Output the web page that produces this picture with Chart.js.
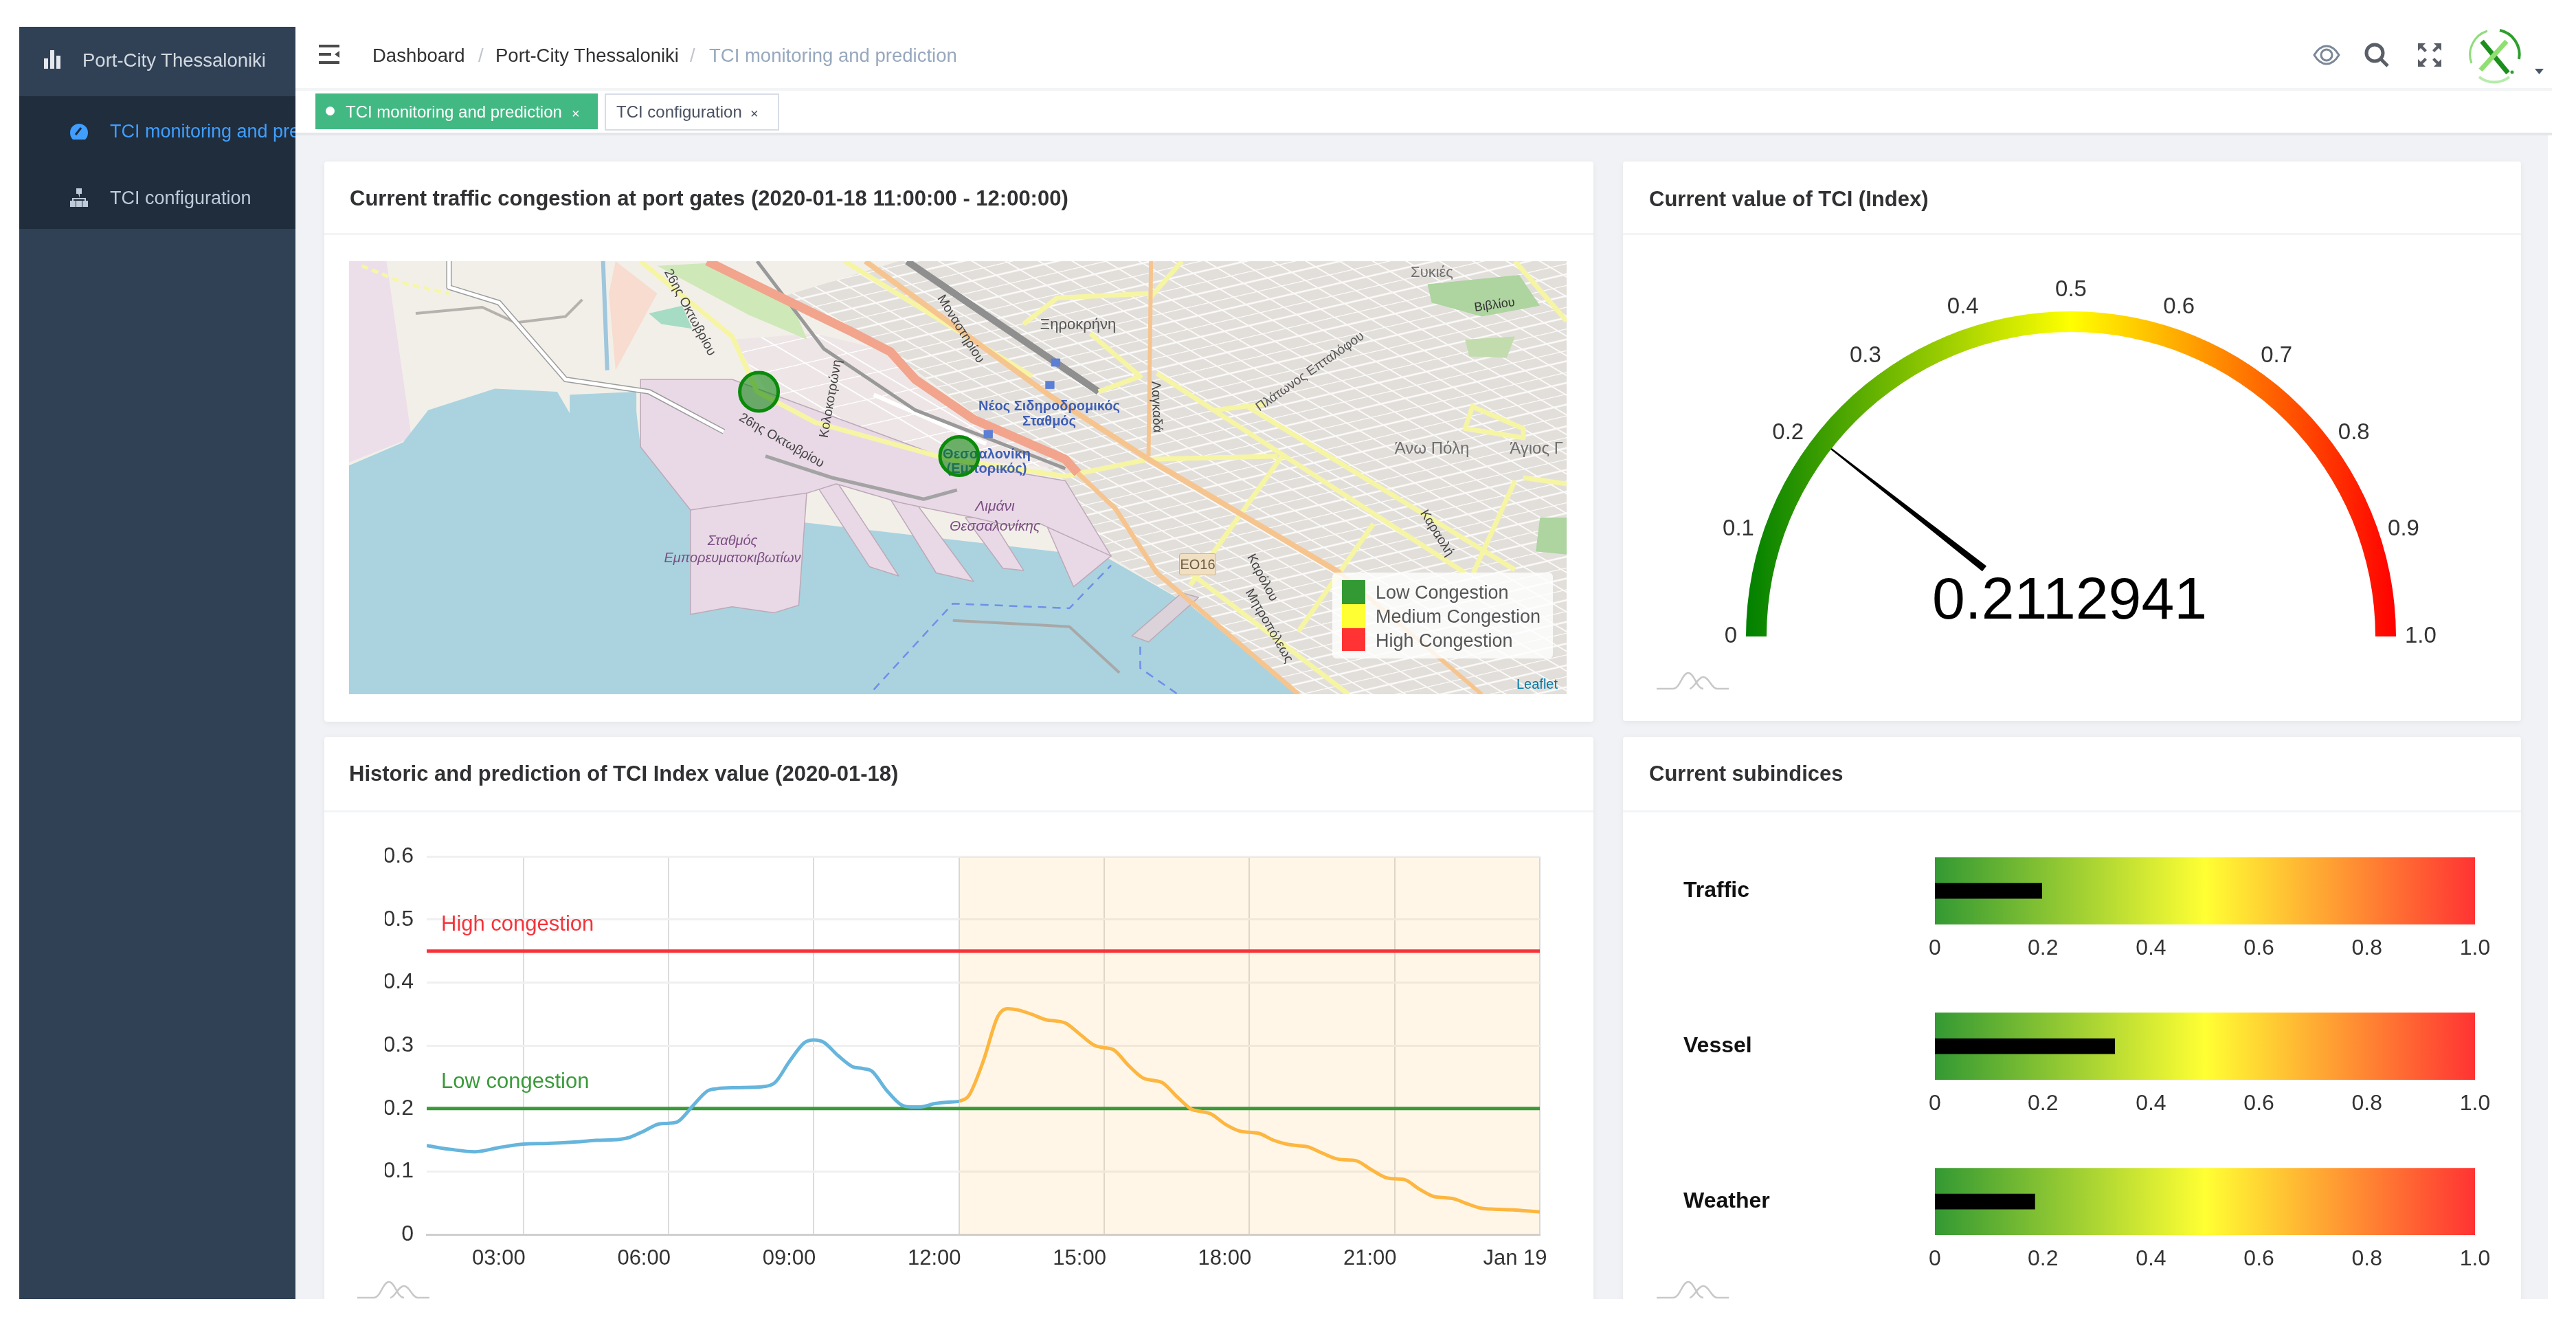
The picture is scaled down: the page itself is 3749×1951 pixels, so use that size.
<!DOCTYPE html>
<html>
<head>
<meta charset="utf-8">
<title>TCI monitoring and prediction</title>
<script src="https://cdn.jsdelivr.net/npm/chart.js@4/dist/chart.umd.js"></script>
<style>
html, body { margin: 0; padding: 0; background: #fff; width: 3749px; height: 1951px; overflow: hidden; font-family: "Liberation Sans", Arial, sans-serif; }
.abs, .abs-text, canvas { position: absolute; }
.abs-text { white-space: nowrap; line-height: 1; transform: translateY(-50%); }
#app { position: absolute; left: 28px; top: 39px; width: 3686px; height: 1851px; overflow: hidden; background: #fff; }
#stage { position: absolute; left: -28px; top: -39px; width: 3749px; height: 1951px; filter: blur(0.7px); }
.panel { position: absolute; background: #fff; border-radius: 4px; box-shadow: 0 2px 10px rgba(0,0,0,0.06); }
.title { font-size: 31px; font-weight: bold; color: #303133; }
.divider { position: absolute; height: 3px; background: #f3f4f6; }
.tri { position: absolute; width: 105px; height: 28px; }
.c { transform: translate(-50%,-50%); }
</style>
</head>
<body>
<div id="app"><div id="stage">
    <!-- page background -->
    <div class="abs" style="left:430px;top:195px;width:3278px;height:1700px;background:#f0f2f5"></div>
    <div class="abs" style="left:430px;top:128px;width:3284px;height:4px;background:#f3f4f5"></div>
    <div class="abs" style="left:430px;top:193px;width:3284px;height:4px;background:#e4e6ea"></div>

    <!-- sidebar -->
    <div class="abs" style="left:28px;top:39px;width:402px;height:1860px;background:#304156"></div>
    <div class="abs" style="left:28px;top:140px;width:402px;height:193px;background:#1f2d3d"></div>
    <svg class="abs" style="left:60px;top:70px" width="32" height="32"><path d="M4 15h6v15H4zM13 3h6v27h-6zM22 11h6v19h-6z" fill="#e4e7ec"/></svg>
    <div class="abs-text" style="left:120px;top:88px;font-size:27.500px;color:#d3d9e0">Port-City Thessaloniki</div>
    <svg class="abs" style="left:100px;top:176px" width="30" height="32"><path d="M15 4a13 13 0 0 1 13 13c0 5-2 8-4 10H6c-2-2-4-5-4-10A13 13 0 0 1 15 4z" fill="#409eff"/><path d="M10 20l8-10" stroke="#1f2d3d" stroke-width="3"/></svg>
    <div class="abs" style="left:160px;top:170px;width:270px;height:46px;overflow:hidden">
        <div class="abs-text" style="left:0;top:21px;font-size:27px;color:#409eff">TCI monitoring and prediction</div>
    </div>
    <svg class="abs" style="left:100px;top:272px" width="30" height="32"><path d="M11 2h8v8h-8zM14 10h2v6H5v4h2v-2h16v2h2v-4H16zM2 20h8v9H2zM11 20h8v9h-8zM20 20h8v9h-8z" fill="#bfcbd9"/></svg>
    <div class="abs-text" style="left:160px;top:288px;font-size:27px;color:#bfcbd9">TCI configuration</div>

    <!-- navbar -->
    <svg class="abs" style="left:464px;top:64px" width="32" height="32"><path d="M0 3h30M0 15h18M0 27h30" stroke="#4a4a4a" stroke-width="4"/><path d="M30 10l-7 5 7 5z" fill="#4a4a4a"/></svg>
    <div class="abs-text" style="left:542px;top:81px;font-size:27.500px;color:#303133">Dashboard</div>
    <div class="abs-text" style="left:696px;top:81px;font-size:27.500px;color:#c0c4cc">/</div>
    <div class="abs-text" style="left:721px;top:81px;font-size:27.500px;color:#303133">Port-City Thessaloniki</div>
    <div class="abs-text" style="left:1004px;top:81px;font-size:27.500px;color:#c0c4cc">/</div>
    <div class="abs-text" style="left:1032px;top:81px;font-size:27.500px;color:#97a8be">TCI monitoring and prediction</div>
    <svg class="abs" style="left:3366px;top:60px" width="40" height="40"><path d="M2 20C8 10 14 7 20 7s12 3 18 13c-6 10-12 13-18 13S8 30 2 20z" fill="none" stroke="#7a8797" stroke-width="3"/><circle cx="20" cy="20" r="8" fill="none" stroke="#7a8797" stroke-width="3"/></svg>
    <svg class="abs" style="left:3440px;top:60px" width="40" height="40"><circle cx="16" cy="17" r="12" fill="none" stroke="#5a5e66" stroke-width="5"/><path d="M25 26l10 10" stroke="#5a5e66" stroke-width="5"/></svg>
    <svg class="abs" style="left:3516px;top:60px" width="40" height="40"><path d="M3 3h11l-4 4 6 6-3 3-6-6-4 4zM37 3v11l-4-4-6 6-3-3 6-6-4-4zM3 37V26l4 4 6-6 3 3-6 6 4 4zM37 37H26l4-4-6-6 3-3 6 6 4-4z" fill="#5a5e66"/></svg>
    <svg class="abs" style="left:3590px;top:40px" width="82" height="82">
        <path d="M30 5A36 36 0 0 0 7 52" fill="none" stroke="#8fdc7c" stroke-width="3"/>
        <path d="M48 4A36 36 0 0 1 76 46" fill="none" stroke="#2f9e2f" stroke-width="4"/>
        <path d="M18 72A36 36 0 0 0 62 72" fill="none" stroke="#b5ecaa" stroke-width="4"/>
        <path d="M22 20L60 66" stroke="#1d8f1d" stroke-width="7"/>
        <path d="M58 20L20 62" stroke="#8fe070" stroke-width="7"/>
        <circle cx="66" cy="65" r="2.5" fill="#2f9e2f"/>
    </svg>
    <svg class="abs" style="left:3688px;top:99px" width="16" height="10"><path d="M1 1h13L7.500 9z" fill="#48576a"/></svg>

    <!-- tabs -->
    <div class="abs" style="left:459px;top:136px;width:411px;height:52px;background:#42b983"></div>
    <div class="abs" style="left:474px;top:155px;width:13px;height:13px;border-radius:50%;background:#fff"></div>
    <div class="abs-text" style="left:503px;top:163px;font-size:24px;color:#fff">TCI monitoring and prediction</div>
    <div class="abs-text" style="left:832px;top:165px;font-size:20px;color:#fff">×</div>
    <div class="abs" style="left:880px;top:136px;width:250px;height:50px;border:2px solid #d8dce5;background:#fff"></div>
    <div class="abs-text" style="left:897px;top:163px;font-size:24px;color:#495060">TCI configuration</div>
    <div class="abs-text" style="left:1092px;top:165px;font-size:20px;color:#495060">×</div>

    <!-- map panel -->
    <div class="panel" style="left:472px;top:235px;width:1847px;height:815px"></div>
    <div class="divider" style="left:472px;top:339px;width:1847px"></div>
    <div class="abs-text title" style="left:509px;top:288px">Current traffic congestion at port gates (2020-01-18 11:00:00 - 12:00:00)</div>

    <div class="abs" style="left:508px;top:380px;width:1772px;height:630px;overflow:hidden;background:#f2efe9">
        <svg class="abs" style="left:0;top:0" width="1772" height="630" viewBox="40 45 1462 1410" preserveAspectRatio="none">
            <defs>
                <pattern id="streets" width="60" height="34" patternUnits="userSpaceOnUse" patternTransform="rotate(58)">
                    <rect width="60" height="34" fill="#e2dfdb"/>
                    <path d="M0 0H60M0 0V34M30 0V34" stroke="#fbfaf8" stroke-width="5"/>
                </pattern>
                <pattern id="lightStreets" width="70" height="60" patternUnits="userSpaceOnUse" patternTransform="rotate(58)">
                    <rect width="70" height="60" fill="#eee6e6"/>
                    <path d="M0 0H70M0 0V60" stroke="#fff" stroke-width="5"/>
                </pattern>
            </defs>
            <g fill="none" stroke-linejoin="round">
                <polygon points="40,45 85,45 115,620 40,700" fill="#ecdfe9"/>
                <polygon points="700,45 1502,45 1502,1455 1180,1455 1050,1165 950,1000 900,760 690,340 560,160" fill="url(#streets)"/>
                <polygon points="500,300 600,280 690,340 790,560 900,720 770,690 560,540" fill="url(#lightStreets)"/>
                <polygon points="410,60 480,50 570,170 590,300 520,220" fill="#cfe8b8"/>
                <polygon points="400,215 440,190 452,265 415,250" fill="#a6dcc4"/>
                <polygon points="360,45 410,150 360,400 352,150" fill="#f7dccf"/>
                <polygon points="1335,120 1445,90 1470,190 1400,225 1340,180" fill="#aed4a0"/>
                <polygon points="1380,300 1440,290 1430,360 1385,355" fill="#c3dcae"/>
                <polygon points="1470,880 1502,880 1502,1000 1465,990" fill="#aed4a0"/>

                <!-- sea -->
                <polygon points="40,710 105,635 135,530 215,460 290,470 305,540 385,535 390,650 450,855 600,900 950,1010 1050,1165 1180,1455 40,1455" fill="#aad3df"/>
                <!-- port, container block and piers -->
                <g fill="#e9d9e7" stroke="#bda9b7" stroke-width="1.500">
                    <polygon points="450,1195 500,1170 550,1190 580,1165 590,780 450,700" vector-effect="non-scaling-stroke"/>
                    <polygon points="625,760 700,1070 665,1040 600,770" vector-effect="non-scaling-stroke"/>
                    <polygon points="720,830 790,1088 745,1060 690,820" vector-effect="non-scaling-stroke"/>
                    <polygon points="810,880 850,1052 825,1045 780,880" vector-effect="non-scaling-stroke"/>
                    <polygon points="955,1005 910,1105 880,920 870,860" vector-effect="non-scaling-stroke"/>
                    <polygon points="390,430 500,430 770,700 900,760 955,1005 870,900 830,905 790,880 735,850 700,830 625,770 590,800 450,855 390,650" vector-effect="non-scaling-stroke"/>
                </g>
                <polygon points="1060,1140 1000,1285 980,1265 1040,1125" fill="#dcd2da" stroke="#b9aab5" stroke-width="1.500" vector-effect="non-scaling-stroke"/>
                <polygon points="305,480 385,470 385,540 305,545" fill="#aad3df"/>

                <polyline points="670,1440 765,1160 905,1175 955,1035" stroke="#6f8fe8" stroke-width="2.500" stroke-dasharray="12 9" vector-effect="non-scaling-stroke"/>
                <polyline points="990,1300 990,1370 1035,1455" stroke="#6f8fe8" stroke-width="2.500" stroke-dasharray="12 9" vector-effect="non-scaling-stroke"/>
                <polyline points="765,1215 905,1235 965,1385" stroke="#a8a8a8" stroke-width="4" vector-effect="non-scaling-stroke"/>
                <polyline points="345,45 350,400" stroke="#9ec6dc" stroke-width="6" vector-effect="non-scaling-stroke"/>
                <polyline points="55,60 110,120 160,150" stroke="#f6f6a8" stroke-width="5" stroke-dasharray="10 6" vector-effect="non-scaling-stroke"/>
                <polyline points="120,215 200,195 240,245 300,225 320,170" stroke="#b5b2ad" stroke-width="4" vector-effect="non-scaling-stroke"/>

                <!-- motorway -->
                <polyline points="160,45 160,130 220,180 300,430 400,470 490,600" stroke="#9c9c9c" stroke-width="8" vector-effect="non-scaling-stroke"/>
                <polyline points="160,45 160,130 220,180 300,430 400,470 490,600" stroke="#fff" stroke-width="5" vector-effect="non-scaling-stroke"/>
                <polyline points="670,480 805,640" stroke="#fff" stroke-width="6" vector-effect="non-scaling-stroke"/>

                <!-- rail -->
                <polyline points="530,45 610,330 720,530 900,720" stroke="#999" stroke-width="5" vector-effect="non-scaling-stroke"/>
                <polyline points="710,45 940,470" stroke="#8f8f8f" stroke-width="10" vector-effect="non-scaling-stroke"/>
                <polyline points="540,680 620,750 730,820 770,790" stroke="#a3a3a3" stroke-width="5" vector-effect="non-scaling-stroke"/>

                <!-- yellow roads -->
                <g stroke="#f6f5a4" stroke-width="7">
                    <polyline points="390,45 500,290 530,470 600,570 760,690 900,745 1000,690 1155,680" vector-effect="non-scaling-stroke"/>
                    <polyline points="635,45 860,420" vector-effect="non-scaling-stroke"/>
                    <polyline points="850,250 890,165 1000,150" vector-effect="non-scaling-stroke"/>
                    <polyline points="930,280 990,420 940,470" vector-effect="non-scaling-stroke"/>
                    <polyline points="1010,410 1380,1060" vector-effect="non-scaling-stroke"/>
                    <polyline points="1120,520 1440,1050" vector-effect="non-scaling-stroke"/>
                    <polyline points="1080,530 1140,510" vector-effect="non-scaling-stroke"/>
                    <polyline points="1160,680 1050,1100" vector-effect="non-scaling-stroke"/>
                    <polyline points="1270,900 1180,1250" vector-effect="non-scaling-stroke"/>
                    <polyline points="1440,760 1390,1060" vector-effect="non-scaling-stroke"/>
                    <polyline points="1390,510 1380,590 1450,620 1450,590 1390,520" vector-effect="non-scaling-stroke"/>
                    <polyline points="1450,750 1502,770" vector-effect="non-scaling-stroke"/>
                    <polyline points="1440,45 1502,240" vector-effect="non-scaling-stroke"/>
                    <polyline points="1040,45 1000,170" vector-effect="non-scaling-stroke"/>
                    <polyline points="1050,1060 1240,1455" vector-effect="non-scaling-stroke"/>
                </g>

                <!-- major roads -->
                <polyline points="660,45 880,480 1000,690 1230,1060" stroke="#f6c58f" stroke-width="8" vector-effect="non-scaling-stroke"/>
                <polyline points="915,735 960,850 1010,1060 1180,1455" stroke="#f6c58f" stroke-width="7" vector-effect="non-scaling-stroke"/>
                <polyline points="1230,1060 1400,1455" stroke="#f6c58f" stroke-width="6" vector-effect="non-scaling-stroke"/>
                <polyline points="1003,45 1000,680" stroke="#f6c58f" stroke-width="6" vector-effect="non-scaling-stroke"/>
                <polyline points="470,45 560,165 640,270 690,340 720,430 790,560 900,690 915,735" stroke="#f2a48c" stroke-width="13" vector-effect="non-scaling-stroke"/>
                <rect x="876" y="435" width="11" height="26" fill="#5b7fd6"/>
                <rect x="802" y="595" width="11" height="26" fill="#5b7fd6"/>
                <rect x="883" y="362" width="11" height="26" fill="#5b7fd6"/>
            </g>
        </svg>
        <div class="abs-text c" style="left:1019px;top:210px;font-size:20px;font-weight:bold;color:#3f5fb5">Νέος Σιδηροδρομικός</div>
        <div class="abs-text c" style="left:1019px;top:232px;font-size:20px;font-weight:bold;color:#3f5fb5">Σταθμός</div>
        <div class="abs-text c" style="left:928px;top:280px;font-size:20px;font-weight:bold;color:#3f5fb5">Θεσσαλονίκη</div>
        <div class="abs-text c" style="left:928px;top:301px;font-size:20px;font-weight:bold;color:#3f5fb5">(Εμπορικός)</div>
        <div class="abs-text c" style="left:940px;top:355px;font-size:21px;font-style:italic;color:#7b4d83">Λιμάνι</div>
        <div class="abs-text c" style="left:940px;top:384px;font-size:21px;font-style:italic;color:#7b4d83">Θεσσαλονίκης</div>
        <div class="abs-text c" style="left:558px;top:406px;font-size:20px;font-style:italic;color:#7b4d83">Σταθμός</div>
        <div class="abs-text c" style="left:558px;top:431px;font-size:20px;font-style:italic;color:#7b4d83">Εμπορευματοκιβωτίων</div>
        <div class="abs-text c" style="left:1576px;top:272px;font-size:24px;color:#6f6f6f">Άνω Πόλη</div>
        <div class="abs-text c" style="left:1728px;top:272px;font-size:24px;color:#6f6f6f">Άγιος Γ</div>
        <div class="abs-text c" style="left:1061px;top:92px;font-size:22px;color:#555">Ξηροκρήνη</div>
        <div class="abs-text c" style="left:1576px;top:16px;font-size:22px;color:#6f6f6f">Συκιές</div>
        <div class="abs-text" style="left:1667px;top:63px;font-size:18px;color:#333;transform:translate(-50%,-50%) rotate(-8deg)">Βιβλίου</div>
        <div class="abs-text" style="left:497px;top:74px;font-size:19px;color:#444;transform:translate(-50%,-50%) rotate(62deg)">26ης Οκτωβρίου</div>
        <div class="abs-text" style="left:630px;top:260px;font-size:19px;color:#444;transform:translate(-50%,-50%) rotate(30deg)">26ης Οκτωβρίου</div>
        <div class="abs-text" style="left:891px;top:98px;font-size:19px;color:#444;transform:translate(-50%,-50%) rotate(58deg)">Μοναστηρίου</div>
        <div class="abs-text" style="left:700px;top:200px;font-size:19px;color:#444;transform:translate(-50%,-50%) rotate(-80deg)">Κολοκοτρώνη</div>
        <div class="abs-text" style="left:1176px;top:212px;font-size:19px;color:#444;transform:translate(-50%,-50%) rotate(88deg)">Λαγκαδά</div>
        <div class="abs-text" style="left:1398px;top:160px;font-size:19px;color:#555;transform:translate(-50%,-50%) rotate(-35deg)">Πλάτωνος Επταλόφου</div>
        <div class="abs-text" style="left:1584px;top:395px;font-size:19px;color:#444;transform:translate(-50%,-50%) rotate(58deg)">Καραολή</div>
        <div class="abs-text" style="left:1330px;top:460px;font-size:19px;color:#444;transform:translate(-50%,-50%) rotate(62deg)">Καρόλου</div>
        <div class="abs-text" style="left:1340px;top:530px;font-size:19px;color:#444;transform:translate(-50%,-50%) rotate(60deg)">Μητροπόλεως</div>
        <div class="abs" style="left:1208px;top:425px;width:52px;height:30px;background:#f1dfc2;border:1px solid #c9b48f;border-radius:3px;font-size:20px;line-height:30px;text-align:center;color:#6b5b45">ΕΟ16</div>

        <!-- legend -->
        <div class="abs" style="left:1431px;top:453px;width:321px;height:125px;background:rgba(255,255,255,0.8);border-radius:6px"></div>
        <div class="abs" style="left:1445px;top:464px;width:34px;height:35px;background:#339933"></div>
        <div class="abs" style="left:1445px;top:499px;width:34px;height:35px;background:#ffff33"></div>
        <div class="abs" style="left:1445px;top:534px;width:34px;height:33px;background:#ff3333"></div>
        <div class="abs-text" style="left:1494px;top:482px;font-size:27px;color:#555">Low Congestion</div>
        <div class="abs-text" style="left:1494px;top:517px;font-size:27px;color:#555">Medium Congestion</div>
        <div class="abs-text" style="left:1494px;top:552px;font-size:27px;color:#555">High Congestion</div>
        <div class="abs-text" style="left:1699px;top:615px;font-size:20px;color:#0078a8;">Leaflet</div>
        <canvas id="mapChart" style="left:0;top:0" width="1772" height="630"></canvas>
    </div>

    <!-- gauge panel -->
    <div class="panel" style="left:2362px;top:235px;width:1307px;height:814px"></div>
    <div class="divider" style="left:2362px;top:339px;width:1307px"></div>
    <div class="abs-text title" style="left:2400px;top:289px">Current value of TCI (Index)</div>
    <canvas id="gaugeChart" style="left:2460px;top:390px" width="1108" height="599"></canvas>
    <svg class="tri" style="left:2411px;top:976px" viewBox="0 0 105 28"><path d="M0 26H24C34 26 37 3 46 3S58 26 68 26M48 26C54 26 60 9 68 9S80 26 88 26H105" fill="none" stroke="#c8c8c8" stroke-width="2.500"/></svg>

    <!-- line chart panel -->
    <div class="panel" style="left:472px;top:1072px;width:1847px;height:900px"></div>
    <div class="divider" style="left:472px;top:1179px;width:1847px"></div>
    <div class="abs-text title" style="left:508px;top:1125px">Historic and prediction of TCI Index value (2020-01-18)</div>
    <canvas id="lineChart" style="left:560px;top:1208px" width="1751" height="652"></canvas>
    <svg class="tri" style="left:520px;top:1862px" viewBox="0 0 105 28"><path d="M0 26H24C34 26 37 3 46 3S58 26 68 26M48 26C54 26 60 9 68 9S80 26 88 26H105" fill="none" stroke="#c8c8c8" stroke-width="2.500"/></svg>

    <!-- subindices panel -->
    <div class="panel" style="left:2362px;top:1072px;width:1307px;height:900px"></div>
    <div class="divider" style="left:2362px;top:1179px;width:1307px"></div>
    <div class="abs-text title" style="left:2400px;top:1125px">Current subindices</div>
    <canvas id="bulletChart0" style="left:2450px;top:1225px" width="1192" height="180"></canvas>
    <canvas id="bulletChart1" style="left:2450px;top:1451px" width="1192" height="180"></canvas>
    <canvas id="bulletChart2" style="left:2450px;top:1677px" width="1192" height="180"></canvas>
    <svg class="tri" style="left:2411px;top:1862px" viewBox="0 0 105 28"><path d="M0 26H24C34 26 37 3 46 3S58 26 68 26M48 26C54 26 60 9 68 9S80 26 88 26H105" fill="none" stroke="#c8c8c8" stroke-width="2.500"/></svg>
</div></div>

<script>
// map gates
var gateLon = [22.9303, 22.9451];
var gateLat = [40.64595, 40.6415];

// gauge
var tciValue = 0.2112941;
var gaugeTrack = [1];
var gaugeTicks = [0, 0.1, 0.2, 0.3, 0.4, 0.5, 0.6, 0.7, 0.8, 0.9, 1.0];
var gaugeTickLabels = ['0', '0.1', '0.2', '0.3', '0.4', '0.5', '0.6', '0.7', '0.8', '0.9', '1.0'];

// history and prediction
var historyHours = [1, 1.5, 2, 2.5, 3, 3.5, 4, 4.5, 5, 5.2, 5.5, 5.8, 6, 6.2, 6.5, 6.8, 7, 7.4, 8, 8.2, 8.5, 8.8, 9, 9.2, 9.5, 9.8, 10, 10.2, 10.5, 10.8, 11, 11.2, 11.5, 12];
var historyValues = [0.141, 0.135, 0.1313, 0.138, 0.1436, 0.1447, 0.1465, 0.1494, 0.1512, 0.1544, 0.1646, 0.1754, 0.1765, 0.1797, 0.2043, 0.2278, 0.2315, 0.233, 0.2351, 0.2415, 0.2752, 0.3043, 0.3089, 0.3053, 0.284, 0.2663, 0.2635, 0.2592, 0.2291, 0.206, 0.2025, 0.2025, 0.2078, 0.2113];
var predictionHours = [12, 12.2, 12.5, 12.8, 13, 13.2, 13.5, 13.8, 14, 14.2, 14.5, 14.8, 15, 15.2, 15.5, 15.8, 16, 16.2, 16.5, 16.8, 17, 17.2, 17.5, 17.8, 18, 18.2, 18.5, 18.8, 19, 19.2, 19.5, 19.8, 20, 20.2, 20.5, 20.8, 21, 21.2, 21.5, 21.8, 22, 22.2, 22.5, 22.8, 23, 23.5, 24];
var predictionValues = [0.2113, 0.2202, 0.2752, 0.3461, 0.3585, 0.3567, 0.3496, 0.3408, 0.339, 0.3355, 0.3177, 0.3, 0.2965, 0.2929, 0.2685, 0.2484, 0.2447, 0.241, 0.219, 0.1989, 0.1952, 0.1916, 0.1751, 0.1641, 0.1623, 0.1604, 0.1495, 0.1429, 0.141, 0.1392, 0.1293, 0.1201, 0.1183, 0.1172, 0.1037, 0.0908, 0.0883, 0.0872, 0.0725, 0.0604, 0.0586, 0.0571, 0.0487, 0.0414, 0.0403, 0.0388, 0.0359];
var highLevel = 0.45;
var lowLevel = 0.2;
var axisStartHour = 1;
var axisEndHour = 24;
var predictionStartHour = 12;
var tickHours = [3, 6, 9, 12, 15, 18, 21, 24];
var tickLabels = ['03:00', '06:00', '09:00', '12:00', '15:00', '18:00', '21:00', 'Jan 19'];

// subindices
var subNames = ['Traffic', 'Vessel', 'Weather'];
var subValues = [0.198, 0.333, 0.185];

Chart.defaults.animation = false;
Chart.defaults.font.family = '"Liberation Sans", Arial, sans-serif';
Chart.defaults.plugins.legend.display = false;
Chart.defaults.plugins.tooltip.enabled = false;
Chart.defaults.responsive = false;

function fmtTick(v) {
    return v === 0 ? '0' : Number(v).toFixed(1);
}

// gate circles over the map
new Chart(document.getElementById('mapChart'), {
    type: 'scatter',
    data: {
        datasets: [{
            data: gateLon.map(function(lon, i) { return {x: lon, y: gateLat[i]}; }),
            pointRadius: 28,
            borderWidth: 5,
            borderColor: '#0a8a0a',
            backgroundColor: 'rgba(0, 128, 0, 0.55)'
        }]
    },
    options: {
        layout: {autoPadding: false},
        scales: {
            x: {display: false, min: 22.90, max: 22.99},
            y: {display: false, min: 40.625, max: 40.655}
        }
    }
});

// needle, tick labels and number for the gauge
var gaugeDecor = {
    id: 'gaugeDecor',
    afterDraw: function(chart) {
        var arc = chart.getDatasetMeta(0).data[0];
        var ctx = chart.ctx;
        var cx = arc.x, cy = arc.y, r = arc.outerRadius;
        ctx.save();
        ctx.font = '33px "Liberation Sans"';
        ctx.fillStyle = '#333';
        ctx.textAlign = 'center';
        ctx.textBaseline = 'middle';
        gaugeTicks.forEach(function(t, i) {
            var a = Math.PI * (1 - t);
            var label = gaugeTickLabels[i];
            var lr = r + 13 + ctx.measureText(label).width / 2;
            ctx.fillText(label, cx + lr * Math.cos(a), cy - (lr - 5) * Math.sin(a));
        });
        var na = Math.PI * (1 - tciValue);
        var dx = Math.cos(na), dy = -Math.sin(na);
        var inner = 160, outer = r - 30;
        ctx.beginPath();
        ctx.moveTo(cx + inner * dx - 5 * dy, cy + inner * dy + 5 * dx);
        ctx.lineTo(cx + outer * dx - 1.200 * dy, cy + outer * dy + 1.200 * dx);
        ctx.lineTo(cx + outer * dx + 1.200 * dy, cy + outer * dy - 1.200 * dx);
        ctx.lineTo(cx + inner * dx + 5 * dy, cy + inner * dy - 5 * dx);
        ctx.closePath();
        ctx.fillStyle = '#000';
        ctx.fill();
        ctx.font = '86px "Liberation Sans"';
        ctx.fillStyle = '#000';
        ctx.fillText(String(tciValue), cx - 2, cy - 50);
        ctx.restore();
    }
};

new Chart(document.getElementById('gaugeChart'), {
    type: 'doughnut',
    data: {
        datasets: [{
            data: gaugeTrack,
            borderWidth: 0,
            backgroundColor: function(c) {
                var area = c.chart.chartArea;
                if (!area) return '#008000';
                var mid = (area.left + area.right) / 2;
                var g = c.chart.ctx.createLinearGradient(mid - 473, 0, mid + 473, 0);
                g.addColorStop(0, '#008000');
                g.addColorStop(0.5, '#ffff00');
                g.addColorStop(1, '#ff0000');
                return g;
            }
        }]
    },
    options: {
        rotation: -90,
        circumference: 180,
        radius: 473,
        cutout: '93.66%'
    },
    plugins: [gaugeDecor]
});

// names written above the two threshold lines
var levelNames = {
    id: 'levelNames',
    afterDatasetsDraw: function(chart) {
        var ctx = chart.ctx;
        ctx.save();
        ctx.font = '31px "Liberation Sans"';
        ctx.textBaseline = 'middle';
        chart.data.datasets.forEach(function(ds) {
            if (!ds.levelLabel) return;
            ctx.fillStyle = ds.borderColor;
            ctx.fillText(ds.levelLabel, chart.scales.x.left + 21, chart.scales.y.getPixelForValue(ds.data[0].y) - 38);
        });
        ctx.restore();
    }
};

function toPoints(xs, ys) {
    return xs.map(function(x, i) { return {x: x, y: ys[i]}; });
}

new Chart(document.getElementById('lineChart'), {
    type: 'line',
    data: {
        datasets: [
            {
                data: [{x: predictionStartHour, y: 0.6}, {x: axisEndHour, y: 0.6}],
                borderWidth: 0,
                pointRadius: 0,
                fill: 'origin',
                backgroundColor: 'rgba(255, 170, 40, 0.11)',
                order: 5
            },
            {
                data: [{x: axisStartHour, y: highLevel}, {x: axisEndHour, y: highLevel}],
                levelLabel: 'High congestion',
                borderColor: '#f5343a',
                borderWidth: 5,
                pointRadius: 0,
                order: 3
            },
            {
                data: [{x: axisStartHour, y: lowLevel}, {x: axisEndHour, y: lowLevel}],
                levelLabel: 'Low congestion',
                borderColor: '#3a9a3a',
                borderWidth: 5,
                pointRadius: 0,
                order: 3
            },
            {
                data: toPoints(historyHours, historyValues),
                borderColor: '#66b5dc',
                borderWidth: 5,
                pointRadius: 0,
                cubicInterpolationMode: 'monotone',
                order: 1
            },
            {
                data: toPoints(predictionHours, predictionValues),
                borderColor: '#fdb63f',
                borderWidth: 5,
                pointRadius: 0,
                cubicInterpolationMode: 'monotone',
                order: 1
            }
        ]
    },
    options: {
        layout: {padding: {right: 70}},
        scales: {
            x: {
                type: 'linear',
                min: axisStartHour,
                max: axisEndHour,
                afterBuildTicks: function(scale) {
                    scale.ticks = tickHours.map(function(h) { return {value: h}; });
                },
                afterFit: function(scale) { scale.height = 64; },
                grid: {color: '#dcdcdc', lineWidth: 2, drawTicks: false},
                border: {color: '#d0d0d0', width: 3},
                ticks: {
                    autoSkip: false,
                    maxRotation: 0,
                    labelOffset: -36,
                    padding: 17,
                    color: '#333',
                    font: {size: 31},
                    callback: function(v) { return tickLabels[tickHours.indexOf(v)]; }
                }
            },
            y: {
                min: 0,
                max: 0.6,
                afterFit: function(scale) { scale.width = 61; },
                grid: {color: '#f0f0f0', lineWidth: 3, drawTicks: false},
                border: {display: false},
                ticks: {
                    stepSize: 0.1,
                    padding: 19,
                    color: '#333',
                    font: {size: 32},
                    callback: fmtTick
                }
            }
        }
    },
    plugins: [levelNames]
});

// one bullet bar per subindex
subNames.forEach(function(name, i) {
    new Chart(document.getElementById('bulletChart' + i), {
        type: 'bar',
        data: {
            labels: [name],
            datasets: [
                {
                    data: [1],
                    order: 2,
                    categoryPercentage: 1,
                    barPercentage: 1,
                    backgroundColor: function(c) {
                        var area = c.chart.chartArea;
                        if (!area) return '#339933';
                        var g = c.chart.ctx.createLinearGradient(area.left, 0, area.right, 0);
                        g.addColorStop(0, '#339933');
                        g.addColorStop(0.5, '#ffff33');
                        g.addColorStop(1, '#ff3333');
                        return g;
                    }
                },
                {
                    data: [subValues[i]],
                    order: 1,
                    barThickness: 22,
                    backgroundColor: '#000'
                }
            ]
        },
        options: {
            indexAxis: 'y',
            layout: {padding: {right: 40}},
            datasets: {bar: {grouped: false}},
            scales: {
                x: {
                    min: 0,
                    max: 1,
                    afterFit: function(scale) { scale.height = 60; },
                    grid: {display: false},
                    border: {display: false},
                    ticks: {
                        stepSize: 0.2,
                        padding: 8,
                        color: '#333',
                        font: {size: 32},
                        callback: fmtTick
                    }
                },
                y: {
                    afterFit: function(scale) { scale.width = 366; },
                    grid: {display: false},
                    border: {display: false},
                    ticks: {
                        crossAlign: 'far',
                        color: '#111',
                        font: {size: 32, weight: 'bold'}
                    }
                }
            }
        }
    });
});
</script>
</body>
</html>
